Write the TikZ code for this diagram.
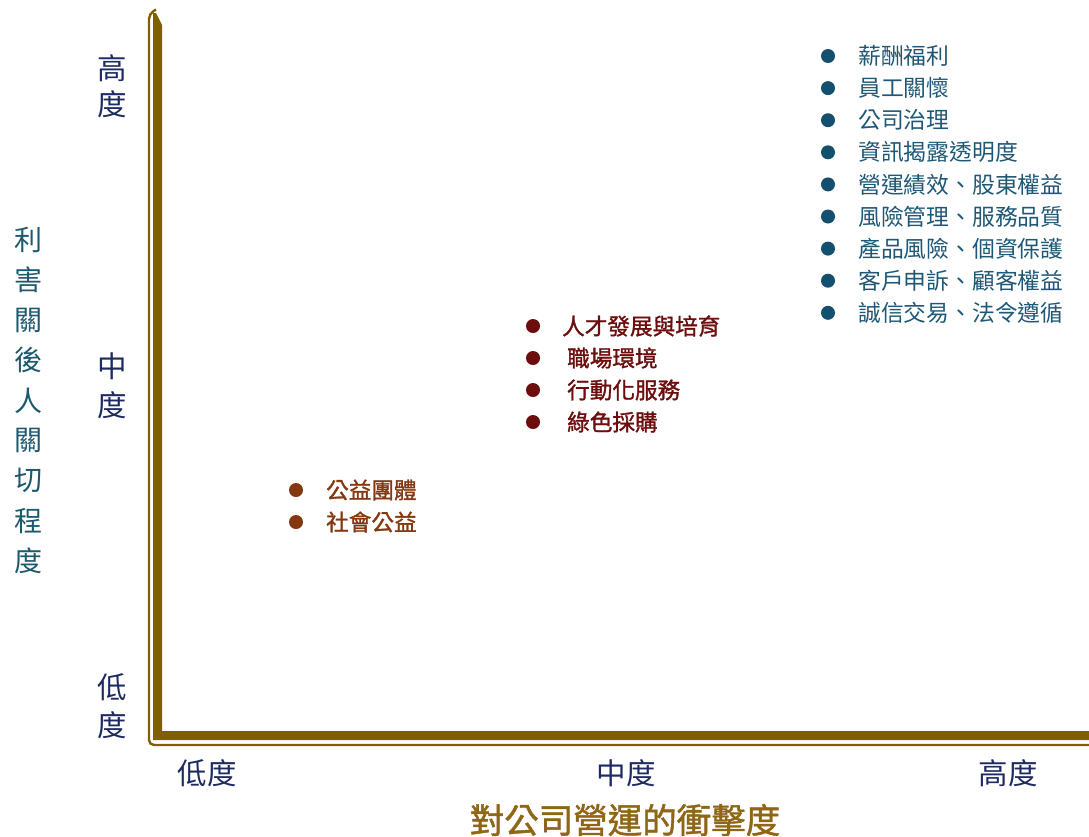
\documentclass[tikz,border=0pt]{standalone}
\usepackage{fontspec}
\setmainfont{Noto Sans CJK TC}
\newfontfamily\cjk{Noto Sans CJK TC}
\newfontfamily\cjkmed[BoldFont={Noto Sans CJK TC}, BoldFeatures={FakeBold=1.3}]{Noto Sans CJK TC}
\definecolor{axisbrown}{RGB}{127,96,0}
\definecolor{navy}{RGB}{30,42,98}
\definecolor{tealtitle}{RGB}{28,88,110}
\definecolor{toplist}{RGB}{30,88,118}
\definecolor{topbullet}{RGB}{20,80,110}
\definecolor{midred}{RGB}{108,14,14}
\definecolor{lowbrown}{RGB}{132,56,16}
\definecolor{xtitle}{RGB}{142,102,22}
\begin{document}
\begin{tikzpicture}[x=1pt,y=-1pt,
  axlab/.style={font=\cjk\fontsize{29.5}{29.5}\selectfont, text=navy, inner sep=0pt},
  ytitle/.style={font=\cjk\fontsize{28}{28}\selectfont, text=tealtitle, inner sep=0pt},
  toptext/.style={font=\cjk\fontsize{22.8}{22.8}\selectfont, text=toplist, anchor=west, inner sep=0pt},
  midtext/.style={font=\cjkmed\bfseries\fontsize{22.6}{22.6}\selectfont, text=midred, anchor=west, inner sep=0pt},
  lowtext/.style={font=\cjkmed\bfseries\fontsize{22.6}{22.6}\selectfont, text=lowbrown, anchor=west, inner sep=0pt},
  dot/.style={circle, inner sep=0pt, minimum size=14pt},
]
\useasboundingbox (0,0) rectangle (1089,836);
% axes
\fill[axisbrown] (153,13) -- (156,13) -- (162,25) -- (162,731) -- (1089,731) -- (1089,740) -- (153,740) -- cycle;
\draw[axisbrown, line width=2.4pt, rounded corners=5pt] (1089,745) -- (149,745) -- (149,14) -- (156,9.5);
% y axis labels
\node[axlab] (yh1) at (112,68) {高};
\node[axlab] (yh2) at (112,104) {度};
\node[axlab] (ym1) at (112,366) {中};
\node[axlab] (ym2) at (112,405) {度};
\node[axlab] (yl1) at (112,687) {低};
\node[axlab] (yl2) at (112,725) {度};
% x axis labels
\node[axlab] (xl) at (207,773) {低度};
\node[axlab] (xm) at (626,773) {中度};
\node[axlab] (xh) at (1008,773) {高度};
% x title
\node[font=\cjkmed\bfseries\fontsize{34.5}{34.5}\selectfont, text=xtitle, inner sep=0pt] (xt) at (625,820) {對公司營運的衝擊度};
% y title
\foreach \c [count=\i from 0] in {利,害,關,後,人,關,切,程,度} {
  \node[ytitle] (yt\i) at (28,240+40.1*\i) {\c};
}
% top-right list
\foreach \t [count=\i from 0] in {薪酬福利,員工關懷,公司治理,資訊揭露透明度,營運績效、股東權益,風險管理、服務品質,產品風險、個資保護,客戶申訴、顧客權益,誠信交易、法令遵循} {
  \node[dot, fill=topbullet] (tb\i) at (828,56+32.1*\i) {};
  \node[toptext] (tt\i) at (858,56+32.1*\i) {\t};
}
% middle list
\node[dot, fill=midred] (mb0) at (533,326) {};
\node[midtext] (mt0) at (562,326) {人才發展與培育};
\node[dot, fill=midred] (mb1) at (533,358) {};
\node[midtext] (mt1) at (567,358) {職場環境};
\node[dot, fill=midred] (mb2) at (533,390) {};
\node[midtext] (mt2) at (567,390) {行動化服務};
\node[dot, fill=midred] (mb3) at (533,422) {};
\node[midtext] (mt3) at (567,422) {綠色採購};
% low list
\node[dot, fill=lowbrown] (lb0) at (296,490) {};
\node[lowtext] (lt0) at (326,490) {公益團體};
\node[dot, fill=lowbrown] (lb1) at (296,522) {};
\node[lowtext] (lt1) at (326,522) {社會公益};
\end{tikzpicture}
\end{document}
